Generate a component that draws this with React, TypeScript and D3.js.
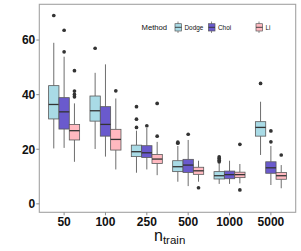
import React from 'react';
import * as d3 from 'd3';

const categories = ['50', '100', '250', '500', '1000', '5000'];
const methods = ['Dodge', 'Choi', 'Li'];
const colors = ['#a9dbe6', '#6a5acd', '#ffb9c0'];

// [lower whisker, q1, median, q3, upper whisker] per n_train
const dodgeStats = [
    [20.3, 31.1, 36.4, 43.3, 59.0],
    [20.1, 30.3, 34.1, 39.5, 48.0],
    [11.4, 17.3, 19.1, 21.5, 26.8],
    [8.1, 11.8, 13.6, 15.8, 21.2],
    [7.3, 9.1, 10.3, 11.8, 14.8],
    [17.9, 24.8, 28.0, 30.1, 37.4],
];
const choiStats = [
    [20.5, 27.4, 33.7, 38.9, 53.9],
    [17.3, 24.8, 29.1, 35.6, 51.1],
    [12.6, 17.0, 18.7, 21.3, 27.8],
    [6.5, 11.5, 14.2, 16.3, 23.4],
    [7.3, 9.2, 10.7, 12.0, 15.8],
    [6.9, 11.2, 13.2, 15.4, 21.2],
];
const liStats = [
    [15.4, 23.4, 26.8, 29.1, 36.8],
    [12.6, 19.7, 23.6, 27.3, 38.6],
    [10.5, 14.8, 16.4, 18.1, 22.7],
    [8.1, 10.8, 12.1, 13.4, 15.8],
    [7.5, 9.6, 10.7, 11.6, 14.6],
    [5.7, 9.0, 10.3, 11.5, 14.2],
];
const dodgeOutliers = [[69.0], [57.0], [28.0, 31.0, 35.6], [22.2, 22.6], [15.4, 16.0, 16.6, 17.2], [44.1]];
const choiOutliers = [[63.6, 55.7], [], [28.6], [25.5], [], [26.7, 22.7]];
const liOutliers = [[48.8, 41.3, 40.1, 39.2], [41.4], [24.8, 36.8], [5.9], [21.8, 5.1], [17.9]];

const yTicks = [0, 20, 40, 60];

const allStats = [dodgeStats, choiStats, liStats];
const allOutliers = [dodgeOutliers, choiOutliers, liOutliers];

export default function App() {
    const width = 301, height = 251;
    const left = 39.3, right = 295.7, top = 4.3, bottom = 212.3;

    const x = d3.scalePoint().domain(categories).range([left, right]).padding(0.6);
    const y = d3.scaleLinear().domain([-3.1, 73.1]).range([bottom, top]);
    const bw = x.step() * 0.25;
    const dodge = d3.scaleLinear().domain([0, 2]).range([-bw, bw]);

    const font = 'Liberation Sans, Arial, sans-serif';
    const legendX = [175, 208.5, 256];

    return (
        <svg width={width} height={height} style={{position: 'absolute', left: 0, top: 0, background: 'white'}}>
            <rect x={left} y={top} width={right - left} height={bottom - top} fill="white" stroke="#a3a3a3" strokeWidth={1.1} />
            {allStats.map((stats, m) => (
                <g key={m}>
                    {stats.map((s, i) => {
                        const cx = x(categories[i]) + dodge(m);
                        return (
                            <g key={i}>
                                <line x1={cx} x2={cx} y1={y(s[0])} y2={y(s[1])} stroke="#6e6e6e" strokeWidth={1} />
                                <line x1={cx} x2={cx} y1={y(s[3])} y2={y(s[4])} stroke="#6e6e6e" strokeWidth={1} />
                                <rect x={cx - bw / 2} y={y(s[3])} width={bw} height={y(s[1]) - y(s[3])}
                                      fill={colors[m]} stroke="#595959" strokeWidth={0.8} />
                                <line x1={cx - bw / 2} x2={cx + bw / 2} y1={y(s[2])} y2={y(s[2])} stroke="#333" strokeWidth={1.3} />
                                {allOutliers[m][i].map((o, k) => (
                                    <circle key={k} cx={cx} cy={y(o)} r={1.85} fill="#333" />
                                ))}
                            </g>
                        );
                    })}
                </g>
            ))}
            {yTicks.map(t => (
                <g key={t}>
                    <line x1={left - 3} x2={left} y1={y(t)} y2={y(t)} stroke="#8a8a8a" />
                    <text x={left - 4} y={y(t)} dy="0.36em" textAnchor="end" fontFamily={font} fontWeight="bold" fontSize={12} fill="#111">{t}</text>
                </g>
            ))}
            {categories.map(c => (
                <g key={c}>
                    <line x1={x(c)} x2={x(c)} y1={bottom} y2={bottom + 3} stroke="#8a8a8a" />
                    <text x={x(c)} y={bottom + 14} textAnchor="middle" fontFamily={font} fontWeight="bold" fontSize={12} fill="#111">{c}</text>
                </g>
            ))}
            <text x={154} y={240.5} fontFamily={font} fontSize={16} fill="#111">n<tspan fontSize={11.5} dy={3}>train</tspan></text>
            <text x={141.5} y={30} fontFamily={font} fontSize={7.7} fill="#111">Method</text>
            {methods.map((name, m) => {
                const kx = legendX[m];
                return (
                    <g key={name}>
                        <line x1={kx + 3} x2={kx + 3} y1={21.5} y2={33} stroke="#6e6e6e" strokeWidth={0.8} />
                        <rect x={kx} y={23.7} width={6.5} height={7.3} fill={colors[m]} stroke="#595959" strokeWidth={0.7} />
                        <line x1={kx} x2={kx + 6.5} y1={27.3} y2={27.3} stroke="#333" strokeWidth={0.9} />
                        <text x={kx + 9.5} y={29.6} fontFamily={font} fontSize={6.4} fill="#111">{name}</text>
                    </g>
                );
            })}
        </svg>
    );
}
